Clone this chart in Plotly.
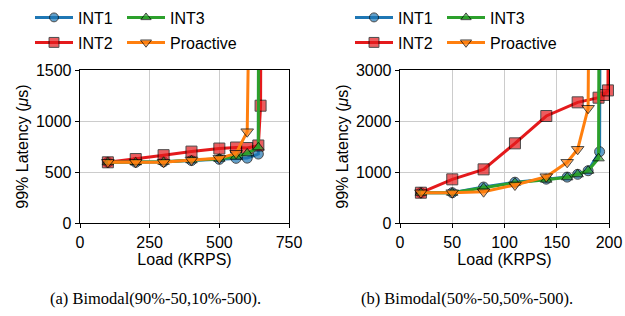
import plotly.graph_objects as go

# ---------- data: (a) Bimodal(90%-50,10%-500) ----------
a_int1_x = [100, 200, 300, 400, 500, 560, 600, 640, 642]
a_int1_y = [595, 595, 600, 612, 624, 634, 636, 676, 5000]
a_int2_x = [100, 200, 300, 400, 500, 560, 600, 640, 648, 652]
a_int2_y = [595, 627, 665, 700, 730, 740, 735, 760, 1150, 5000]
a_int3_x = [100, 200, 300, 400, 500, 560, 600, 640, 642]
a_int3_y = [595, 595, 600, 615, 630, 650, 683, 742, 5000]
a_pro_x = [100, 200, 300, 400, 500, 560, 600, 622]
a_pro_y = [595, 595, 595, 617, 634, 683, 895, 5000]

# ---------- data: (b) Bimodal(50%-50,50%-500) ----------
b_int1_x = [20, 50, 80, 110, 140, 160, 170, 180, 191, 192]
b_int1_y = [594, 594, 705, 800, 860, 900, 955, 1025, 1398, 8000]
b_int2_x = [20, 50, 80, 110, 140, 170, 190, 195, 199, 200]
b_int2_y = [594, 856, 1052, 1562, 2098, 2366, 2457, 2510, 2600, 8000]
b_int3_x = [20, 50, 80, 110, 140, 160, 170, 180, 190, 191]
b_int3_y = [594, 594, 690, 790, 850, 896, 955, 1025, 1268, 8000]
b_pro_x = [20, 50, 80, 110, 140, 160, 170, 180, 182]
b_pro_y = [594, 594, 614, 745, 908, 1190, 1445, 2250, 8000]

names = ["INT1", "INT2", "INT3", "Proactive"]
colors = {"INT1": "#1f77b4", "INT2": "#e41a1c", "INT3": "#2ca02c", "Proactive": "#ff7f0e"}
symbols = {"INT1": "circle", "INT2": "square", "INT3": "triangle-up", "Proactive": "triangle-down"}
msize = {"INT1": 10, "INT2": 11, "INT3": 10, "Proactive": 11}
lwidth = {"INT1": 39, "INT2": 39, "INT3": 90, "Proactive": 90}

FONT = "Liberation Sans"

fig = go.Figure()

panels = [
    ("x", "y", 1500, {"INT1": (a_int1_x, a_int1_y), "INT2": (a_int2_x, a_int2_y),
                      "INT3": (a_int3_x, a_int3_y), "Proactive": (a_pro_x, a_pro_y)},
     ("legend", "legend2")),
    ("x2", "y2", 3000, {"INT1": (b_int1_x, b_int1_y), "INT2": (b_int2_x, b_int2_y),
                        "INT3": (b_int3_x, b_int3_y), "Proactive": (b_pro_x, b_pro_y)},
     ("legend3", "legend4")),
]

for xa, ya, ymax, series, (lg_top, lg_bot) in panels:
    for nm in names:
        xs, ys = series[nm]
        sizes = [msize[nm] if v <= ymax else 0 for v in ys]
        fig.add_trace(go.Scatter(
            x=xs, y=ys, name=nm, mode="lines+markers",
            xaxis=xa, yaxis=ya,
            line=dict(color=colors[nm], width=3),
            marker=dict(symbol=symbols[nm], size=sizes, color=colors[nm],
                        line=dict(color="black", width=1)),
            cliponaxis=False,
            legend=lg_top if nm in ("INT1", "INT3") else lg_bot,
            legendrank={"INT1": 1, "INT3": 2, "INT2": 1, "Proactive": 2}[nm],
            legendwidth=lwidth[nm],
        ))

# Page body margin is removed (see post_script), so figure pixels = window pixels.
W, H = 625, 316
def px_x(p):
    return p / W
def px_y(p):
    return 1 - p / H

axis_common = dict(
    showline=True, linecolor="black", linewidth=1.3, mirror=True,
    showgrid=True, gridcolor="#cccccc", gridwidth=1,
    ticks="outside", ticklen=4, tickcolor="black",
    zeroline=False, automargin=False, ticklabeloverflow="allow",
    tickfont=dict(family=FONT, size=16, color="black"),
    title_font=dict(family=FONT, size=16, color="black"),
)

ydom = [px_y(223), px_y(70)]
legend_common = dict(
    orientation="h", itemwidth=38,
    font=dict(family=FONT, size=16, color="black"),
    bgcolor="rgba(0,0,0,0)", xanchor="left", yanchor="middle",
    tracegroupgap=0, itemclick=False, itemdoubleclick=False,
)

fig.update_layout(
    width=W, height=H,
    margin=dict(l=0, r=0, t=0, b=0, autoexpand=False),
    paper_bgcolor="white", plot_bgcolor="white",
    showlegend=True, hovermode=False,
    xaxis=dict(domain=[px_x(80), px_x(289)], range=[0, 750], dtick=250, anchor="y",
               title=dict(text="Load (KRPS)", standoff=4), **axis_common),
    yaxis=dict(domain=ydom, range=[0, 1500], dtick=500, anchor="x",
               title=dict(text="99% Latency (<i>μ</i>s)", standoff=3), **axis_common),
    xaxis2=dict(domain=[px_x(400), px_x(609)], range=[0, 200], dtick=50, anchor="y2",
                title=dict(text="Load (KRPS)", standoff=4), **axis_common),
    yaxis2=dict(domain=ydom, range=[0, 3000], dtick=1000, anchor="x2",
                title=dict(text="99% Latency (<i>μ</i>s)", standoff=3), **axis_common),
    legend=dict(x=px_x(30), y=px_y(17.5), **legend_common),
    legend2=dict(x=px_x(30), y=px_y(42.5), **legend_common),
    legend3=dict(x=px_x(350), y=px_y(17.5), **legend_common),
    legend4=dict(x=px_x(350), y=px_y(42.5), **legend_common),
    annotations=[
        dict(text="(a) Bimodal(90%-50,10%-500).", x=px_x(155), y=px_y(298),
             xref="paper", yref="paper", showarrow=False, xanchor="center", yanchor="middle",
             font=dict(family="Liberation Serif", size=16.5, color="black")),
        dict(text="(b) Bimodal(50%-50,50%-500).", x=px_x(467), y=px_y(298),
             xref="paper", yref="paper", showarrow=False, xanchor="center", yanchor="middle",
             font=dict(family="Liberation Serif", size=16.5, color="black")),
    ],
)

fig.write_html("out.html",
               config={"displayModeBar": False, "staticPlot": True},
               post_script="document.body.style.margin='0px';document.body.style.overflow='hidden';")
